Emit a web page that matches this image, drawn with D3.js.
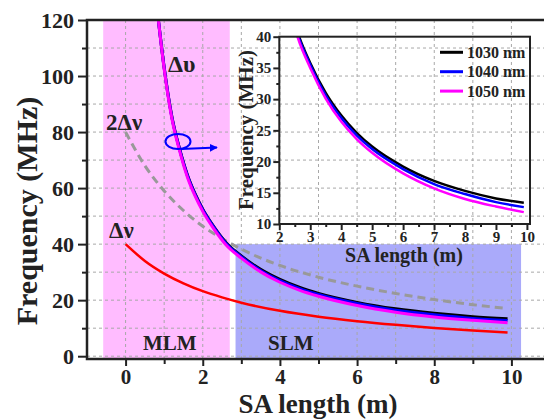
<!DOCTYPE html>
<html>
<head>
<meta charset="utf-8">
<script src="https://d3js.org/d3.v7.min.js"></script>
<style>
  body { margin: 0; background: #fff; }
  text { font-family: "Liberation Serif", "Times New Roman", serif; font-weight: bold; fill: #222; }
</style>
</head>
<body>
<div id="chart"></div>
<script>
var width = 544, height = 420;

// round trip frequency curves (delta upsilon), one per wavelength
var seriesNames = ["1030 nm", "1040 nm", "1050 nm"];
var seriesColors = ["#000000", "#0000ff", "#ff00ff"];
var duLength = [0.85, 1.0, 1.2, 1.4, 1.6, 1.8, 2.0, 2.3, 2.6, 3.0, 3.5, 4.0, 4.5, 5.0, 6.0, 7.0, 8.0, 9.0, 9.9];
var du1030 = [120, 103, 85.5, 74, 64.8, 58, 52.5, 46, 40.6, 35.8, 31, 27.4, 24.6, 22.4, 19.2, 16.9, 15.3, 14.1, 13.4];
var du1040 = [120, 103, 85.3, 73.8, 64.6, 57.8, 52.3, 45.8, 40.3, 35.5, 30.6, 27.0, 24.2, 22.0, 18.8, 16.4, 14.8, 13.5, 12.7];
var du1050 = [120, 102.5, 84.8, 73.3, 64, 57.2, 51.7, 45.2, 39.8, 35.0, 30.1, 26.4, 23.6, 21.4, 18.1, 15.7, 14.0, 12.8, 11.9];

// longitudinal mode spacing (delta nu) and twice of it
var dvLength = [0, 0.5, 1, 1.5, 2, 2.5, 3, 4, 5, 6, 7, 8, 9, 9.9];
var dv = [40, 34, 29.5, 26, 23.2, 21, 19.1, 16.2, 14.1, 12.5, 11.2, 10.1, 9.2, 8.5];
var dv2 = [80, 68, 59, 52, 46.4, 42, 38.2, 32.4, 28.2, 25, 22.4, 20.2, 18.4, 17];

// shaded regimes
var regions = [
  {name: "MLM", x0: -0.58, x1: 2.7, top: 120, fill: "#ffbcff"},
  {name: "SLM", x0: 2.85, x1: 10.25, top: 40, fill: "#aaaafa"}
];

var xTicks = [0, 2, 4, 6, 8, 10];
var yTicks = [0, 20, 40, 60, 80, 100, 120];
var insetXTicks = [2, 3, 4, 5, 6, 7, 8, 9, 10];
var insetYTicks = [10, 15, 20, 25, 30, 35, 40];

var duSeries = [du1030, du1040, du1050];

var svg = d3.select("#chart")
  .append("svg")
    .attr("width", width)
    .attr("height", height);

var x = d3.scaleLinear().domain([-1, 11]).range([87, 550]);
var y = d3.scaleLinear().domain([-1, 120]).range([359, 20]);

var defs = svg.append("defs");
defs.append("clipPath").attr("id", "main-clip")
  .append("rect")
    .attr("x", x(-1)).attr("y", y(120))
    .attr("width", width - x(-1)).attr("height", y(-1) - y(120));

// regime backgrounds
svg.append("g").selectAll("rect")
  .data(regions)
  .enter().append("rect")
    .attr("x", function(d){ return x(d.x0); })
    .attr("y", function(d){ return y(d.top); })
    .attr("width", function(d){ return x(d.x1) - x(d.x0); })
    .attr("height", function(d){ return y(-1) - y(d.top); })
    .attr("fill", function(d){ return d.fill; });

// dashed grid
var grid = svg.append("g")
  .attr("stroke", "#a8a8a8")
  .attr("stroke-width", 1)
  .attr("stroke-dasharray", "3,3");
grid.selectAll("line.v")
  .data(d3.range(0, 11))
  .enter().append("line")
    .attr("x1", function(d){ return x(d); }).attr("x2", function(d){ return x(d); })
    .attr("y1", y(120)).attr("y2", y(-1));
grid.selectAll("line.h")
  .data(d3.range(0, 120, 10))
  .enter().append("line")
    .attr("x1", x(-1)).attr("x2", width)
    .attr("y1", function(d){ return y(d); }).attr("y2", function(d){ return y(d); });

var curves = svg.append("g").attr("clip-path", "url(#main-clip)");

var lineDv = d3.line()
  .x(function(d, i){ return x(dvLength[i]); })
  .y(function(d){ return y(d); })
  .curve(d3.curveMonotoneX);

curves.append("path")
  .attr("d", lineDv(dv2))
  .attr("fill", "none")
  .attr("stroke", "#999")
  .attr("stroke-width", 3)
  .attr("stroke-dasharray", "8,5");

curves.append("path")
  .attr("d", lineDv(dv))
  .attr("fill", "none")
  .attr("stroke", "#ff0000")
  .attr("stroke-width", 2.5);

var lineDu = d3.line()
  .x(function(d, i){ return x(duLength[i]); })
  .y(function(d){ return y(d); })
  .curve(d3.curveMonotoneX);

curves.selectAll("path.du")
  .data(duSeries)
  .enter().append("path")
    .attr("d", lineDu)
    .attr("fill", "none")
    .attr("stroke", function(d, i){ return seriesColors[i]; })
    .attr("stroke-width", 3);

// axes
function styleAxis(g, fontSize) {
  g.select(".domain").remove();
  g.selectAll(".tick line").attr("stroke", "#222").attr("stroke-width", 2);
  if (!fontSize) { g.selectAll(".tick text").remove(); return; }
  g.selectAll(".tick text")
    .style("font-size", fontSize + "px")
    .style("font-family", "Liberation Serif, serif")
    .style("font-weight", "bold")
    .attr("fill", "#222");
}

var gy = svg.append("g")
  .attr("transform", "translate(" + x(-1) + ",0)")
  .call(d3.axisLeft(y).tickValues(yTicks).tickSize(9).tickPadding(4));
styleAxis(gy, 22);
var gyMinor = svg.append("g")
  .attr("transform", "translate(" + x(-1) + ",0)")
  .call(d3.axisLeft(y).tickValues(d3.range(10, 120, 20)).tickSize(5).tickFormat(""));
styleAxis(gyMinor, 0);

var gx = svg.append("g")
  .attr("transform", "translate(0," + y(-1) + ")")
  .call(d3.axisBottom(x).tickValues(xTicks).tickSize(7).tickPadding(3));
styleAxis(gx, 21);
var gxMinor = svg.append("g")
  .attr("transform", "translate(0," + y(-1) + ")")
  .call(d3.axisBottom(x).tickValues(d3.range(1, 11, 2)).tickSize(5).tickFormat(""));
styleAxis(gxMinor, 0);

// frame lines
svg.append("path")
  .attr("d", "M" + width + "," + y(120) + "H" + x(-1) + "V" + y(-1) + "H" + width)
  .attr("fill", "none")
  .attr("stroke", "#222")
  .attr("stroke-width", 2.5);

// axis titles
svg.append("text")
  .attr("transform", "translate(37," + 211 + ") rotate(-90)")
  .attr("text-anchor", "middle")
  .style("font-size", "30px")
  .text("Frequency (MHz)");
svg.append("text")
  .attr("x", 318).attr("y", 413)
  .attr("text-anchor", "middle")
  .style("font-size", "27px")
  .text("SA length (m)");

// curve labels
svg.append("text").attr("x", 168).attr("y", 72).style("font-size", "24px").text("Δυ");
svg.append("text").attr("x", 106).attr("y", 130).style("font-size", "23px").text("2Δν");
svg.append("text").attr("x", 109).attr("y", 238).style("font-size", "23px").text("Δν");
svg.selectAll("text.regime")
  .data(regions)
  .enter().append("text")
    .attr("x", function(d, i){ return i == 0 ? 143 : 268; })
    .attr("y", 350)
    .style("font-size", "21px")
    .text(function(d){ return d.name; });

// ellipse and arrow pointing to the inset
defs.append("marker")
  .attr("id", "arrow")
  .attr("viewBox", "0 0 10 10")
  .attr("refX", 9).attr("refY", 5)
  .attr("markerWidth", 4).attr("markerHeight", 4)
  .attr("orient", "auto")
  .append("path")
    .attr("d", "M0,0L10,5L0,10z")
    .attr("fill", "#0000ff");
svg.append("ellipse")
  .attr("cx", 178).attr("cy", 141.5)
  .attr("rx", 12.5).attr("ry", 7.5)
  .attr("fill", "none")
  .attr("stroke", "#0000ff")
  .attr("stroke-width", 2);
svg.append("line")
  .attr("x1", 181).attr("y1", 149)
  .attr("x2", 217).attr("y2", 147.5)
  .attr("stroke", "#0000ff")
  .attr("stroke-width", 2)
  .attr("marker-end", "url(#arrow)");

// inset
var ix = d3.scaleLinear().domain([2, 10.1]).range([279.3, 530]);
var iy = d3.scaleLinear().domain([10, 40]).range([224, 36.7]);

defs.append("clipPath").attr("id", "inset-clip")
  .append("rect")
    .attr("x", ix(2)).attr("y", iy(40))
    .attr("width", ix(10.1) - ix(2)).attr("height", iy(10) - iy(40));

var inset = svg.append("g");

var insetLine = d3.line()
  .x(function(d, i){ return ix(duLength[i]); })
  .y(function(d){ return iy(d); })
  .curve(d3.curveMonotoneX);

inset.append("g").attr("clip-path", "url(#inset-clip)")
  .selectAll("path")
  .data(duSeries)
  .enter().append("path")
    .attr("d", insetLine)
    .attr("fill", "none")
    .attr("stroke", function(d, i){ return seriesColors[i]; })
    .attr("stroke-width", 2.5);

var igy = inset.append("g")
  .attr("transform", "translate(" + ix(2) + ",0)")
  .call(d3.axisLeft(iy).tickValues(insetYTicks).tickSize(6).tickPadding(2));
styleAxis(igy, 15);
var igyMinor = inset.append("g")
  .attr("transform", "translate(" + ix(2) + ",0)")
  .call(d3.axisLeft(iy).tickValues(d3.range(12.5, 40, 5)).tickSize(3).tickFormat(""));
styleAxis(igyMinor, 0);

var igx = inset.append("g")
  .attr("transform", "translate(0," + iy(10) + ")")
  .call(d3.axisBottom(ix).tickValues(insetXTicks).tickSize(6).tickPadding(1));
styleAxis(igx, 15);
var igxMinor = inset.append("g")
  .attr("transform", "translate(0," + iy(10) + ")")
  .call(d3.axisBottom(ix).tickValues(d3.range(2.5, 10, 1)).tickSize(3).tickFormat(""));
styleAxis(igxMinor, 0);

inset.append("rect")
  .attr("x", ix(2)).attr("y", iy(40))
  .attr("width", ix(10.1) - ix(2)).attr("height", iy(10) - iy(40))
  .attr("fill", "none")
  .attr("stroke", "#222")
  .attr("stroke-width", 2);

inset.append("text")
  .attr("transform", "translate(253,130) rotate(-90)")
  .attr("text-anchor", "middle")
  .style("font-size", "21px")
  .text("Frequency (MHz)");
inset.append("text")
  .attr("x", 404).attr("y", 262)
  .attr("text-anchor", "middle")
  .style("font-size", "20px")
  .text("SA length (m)");

// legend
var legend = inset.selectAll("g.legend")
  .data(seriesNames)
  .enter().append("g")
    .attr("transform", function(d, i){ return "translate(440," + (52.3 + i * 19.4) + ")"; });
legend.append("line")
  .attr("x1", 0).attr("x2", 23)
  .attr("stroke", function(d, i){ return seriesColors[i]; })
  .attr("stroke-width", 3);
legend.append("text")
  .attr("x", 27).attr("dy", "0.35em")
  .style("font-size", "16px")
  .text(function(d){ return d; });
</script>
</body>
</html>
